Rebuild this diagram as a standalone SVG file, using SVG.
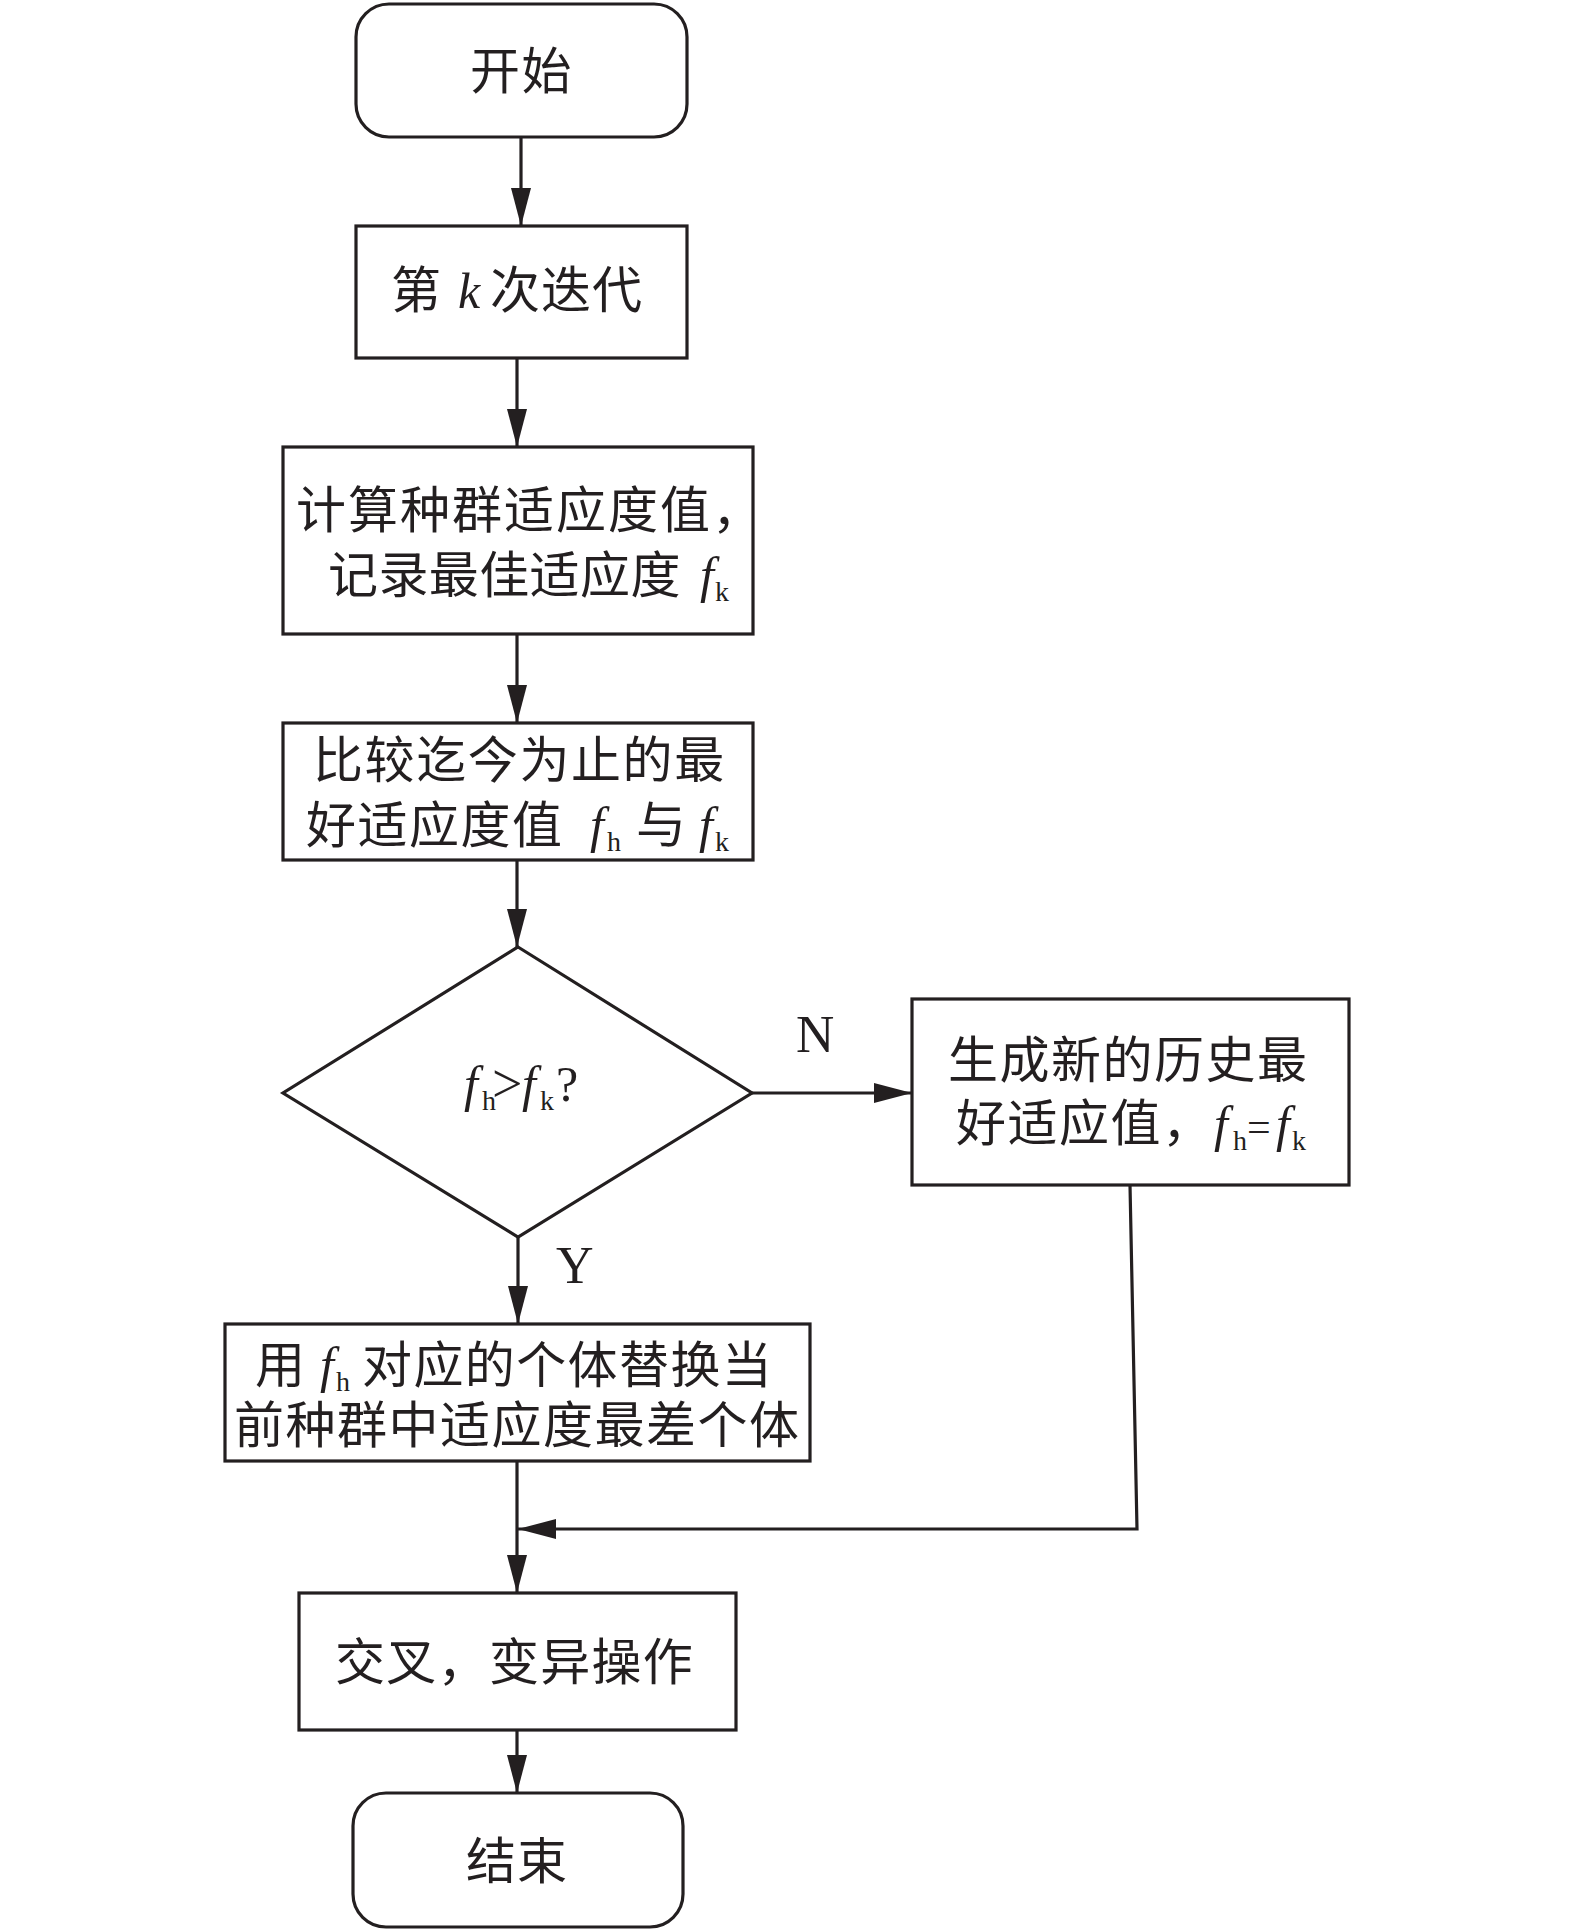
<svg xmlns="http://www.w3.org/2000/svg" width="1575" height="1932" viewBox="0 0 1575 1932">
<style>
.box{fill:#fff;stroke:#231f20;stroke-width:3.2}
.ln{fill:none;stroke:#231f20;stroke-width:3.2}
.cn{font-family:"Noto Sans CJK SC","Noto Sans CJK TC",sans-serif;font-size:50px;fill:#231f20;letter-spacing:1.5px}
.lt{font-family:"Liberation Serif","Times New Roman",serif;font-size:50px;fill:#231f20}
.it{font-style:italic}
.sb{font-size:28px;font-style:normal}
</style>
<defs>
<marker id="ah" markerUnits="userSpaceOnUse" markerWidth="38" markerHeight="20" refX="38" refY="10" orient="auto">
<path d="M0,0 L38,10 L0,20 z" fill="#231f20"/>
</marker>
</defs>
<rect width="1575" height="1932" fill="#fff"/>
<g id="connectors">
<line class="ln" x1="521" y1="137" x2="521" y2="226" marker-end="url(#ah)"/>
<line class="ln" x1="517" y1="358" x2="517" y2="447" marker-end="url(#ah)"/>
<line class="ln" x1="517" y1="634" x2="517" y2="723" marker-end="url(#ah)"/>
<line class="ln" x1="517" y1="860" x2="517" y2="947" marker-end="url(#ah)"/>
<line class="ln" x1="752" y1="1093" x2="912" y2="1093" marker-end="url(#ah)"/>
<line class="ln" x1="518" y1="1237" x2="518" y2="1324" marker-end="url(#ah)"/>
<line class="ln" x1="517" y1="1461" x2="517" y2="1593" marker-end="url(#ah)"/>
<polyline class="ln" points="1130,1185 1137,1529 518,1529" marker-end="url(#ah)"/>
<line class="ln" x1="517" y1="1730" x2="517" y2="1793" marker-end="url(#ah)"/>
<text class="lt" x="796" y="1052" style="font-size:53px">N</text>
<text class="lt" x="556" y="1283" style="font-size:52px">Y</text>
</g>
<g id="start">
<rect class="box" x="356" y="4" width="331" height="133" rx="33"/>
<text class="cn" x="470" y="89">开始</text>
</g>
<g id="iter">
<rect class="box" x="356" y="226" width="331" height="132"/>
<text class="cn" x="391" y="308">第<tspan class="lt it" x="458">k</tspan><tspan x="490" style="letter-spacing:1px">次迭代</tspan></text>
</g>
<g id="calc">
<rect class="box" x="283" y="447" width="470" height="187"/>
<text class="cn" x="296" y="528" style="letter-spacing:2px">计算种群适应度值，</text>
<text class="cn" x="328" y="593" style="letter-spacing:0.4px">记录最佳适应度<tspan class="lt it" x="700" y="592">f</tspan><tspan class="lt sb" x="715" y="601">k</tspan></text>
</g>
<g id="compare">
<rect class="box" x="283" y="723" width="470" height="137"/>
<text class="cn" x="313" y="778" style="letter-spacing:1.6px">比较迄今为止的最</text>
<text class="cn" x="306" y="843">好适应度值<tspan class="lt it" x="590" y="842">f</tspan><tspan class="lt sb" x="607" y="851">h</tspan><tspan x="636" y="843">与</tspan><tspan class="lt it" x="699" y="842">f</tspan><tspan class="lt sb" x="715" y="851">k</tspan></text>
</g>
<g id="decision">
<polygon class="box" points="518,947 752,1093 518,1237 283,1093"/>
<text class="lt it" x="464" y="1101">f<tspan class="sb" x="482" y="1110">h</tspan><tspan style="font-size:54px;font-style:normal" x="492" y="1102">&gt;</tspan><tspan x="522" y="1101">f</tspan><tspan class="sb" x="540" y="1110">k</tspan><tspan style="font-style:normal" x="556" y="1101">?</tspan></text>
</g>
<g id="newbest">
<rect class="box" x="912" y="999" width="437" height="186"/>
<text class="cn" x="948" y="1078">生成新的历史最</text>
<text class="cn" x="956" y="1141">好适应值，<tspan class="lt it" x="1214" y="1141">f</tspan><tspan class="lt sb" x="1233" y="1150">h</tspan><tspan class="lt" style="font-size:42px" x="1247" y="1141">=</tspan><tspan class="lt it" x="1276" y="1141">f</tspan><tspan class="lt sb" x="1292" y="1150">k</tspan></text>
</g>
<g id="replace">
<rect class="box" x="225" y="1324" width="585" height="137"/>
<text class="cn" x="255" y="1383">用<tspan class="lt it" x="320" y="1382">f</tspan><tspan class="lt sb" x="336" y="1391">h</tspan><tspan x="362" y="1383" style="letter-spacing:1.4px">对应的个体替换当</tspan></text>
<text class="cn" x="234" y="1443">前种群中适应度最差个体</text>
</g>
<g id="crossover">
<rect class="box" x="299" y="1593" width="437" height="137"/>
<text class="cn" x="335" y="1680" style="letter-spacing:1.3px">交叉，变异操作</text>
</g>
<g id="end">
<rect class="box" x="353" y="1793" width="330" height="134" rx="33"/>
<text class="cn" x="466" y="1879" style="letter-spacing:1px">结束</text>
</g>
</svg>
